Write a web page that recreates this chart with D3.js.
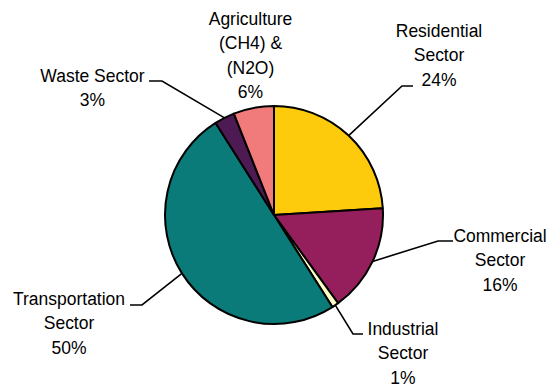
<!DOCTYPE html>
<html>
<head>
<meta charset="utf-8">
<script src="https://cdn.jsdelivr.net/npm/d3@7"></script>
<style>
  html, body { margin: 0; padding: 0; background: #fff; }
  svg { display: block; }
  text { font-family: "Liberation Sans", Arial, sans-serif; font-size: 17.5px; fill: #000; }
</style>
</head>
<body>
<script>
// ---- data ----
const categories = ["Residential", "Commercial", "Industrial", "Transportation", "Waste", "Agriculture"];
const labelLines = [
  ["Residential", "Sector", "24%"],
  ["Commercial", "Sector", "16%"],
  ["Industrial", "Sector", "1%"],
  ["Transportation", "Sector", "50%"],
  ["Waste Sector", "3%"],
  ["Agriculture", "(CH4) &", "(N2O)", "6%"]
];
const values = [24, 16, 1, 50, 3, 6];
const colors = ["#fdca0c", "#951f5c", "#ffffc8", "#0b7b79", "#4e1a54", "#f17b7b"];

// ---- layout (positions only) ----
const W = 548, H = 387;
const cx = 274, cy = 215, R = 109;
const lineH = 24.3;
const stretchY = 1.1;
// label center x, first baseline y
const labelPos = [
  [439, 37], [500, 242], [403, 335], [69, 305], [92.5, 82], [250.5, 25]
];
// leader elbow and end points (null = no leader)
const leaders = [
  [[402, 86], [413, 86]],
  [[438, 241], [453, 241]],
  [[353, 334], [363, 334]],
  [[142, 305], [130, 305]],
  [[162, 81], [149, 81]],
  null
];

const svg = d3.select("body").append("svg").attr("width", W).attr("height", H);
const g = svg.append("g").attr("transform", `translate(${cx},${cy})`);

const pie = d3.pie().sort(null).value(d => d)(values);
const arc = d3.arc().innerRadius(0).outerRadius(R);
const edgeArc = d3.arc().innerRadius(R).outerRadius(R);

g.selectAll("path.slice").data(pie).enter().append("path")
  .attr("class", "slice")
  .attr("d", arc)
  .attr("fill", (d, i) => colors[i])
  .attr("stroke", "#000")
  .attr("stroke-width", 2)
  .attr("stroke-linejoin", "round");

// leader lines
pie.forEach((d, i) => {
  if (!leaders[i]) return;
  const c = edgeArc.centroid(d);
  const pts = [[cx + c[0], cy + c[1]], leaders[i][0], leaders[i][1]];
  svg.append("path")
    .attr("d", d3.line()(pts))
    .attr("fill", "none")
    .attr("stroke", "#000")
    .attr("stroke-width", 1.6);
});

// labels
labelLines.forEach((lines, i) => {
  lines.forEach((s, j) => {
    const x = labelPos[i][0], y = labelPos[i][1] + j * lineH;
    svg.append("text")
      .attr("text-anchor", "middle")
      .attr("transform", `translate(${x},${y}) scale(1,${stretchY})`)
      .text(s);
  });
});
</script>
</body>
</html>
